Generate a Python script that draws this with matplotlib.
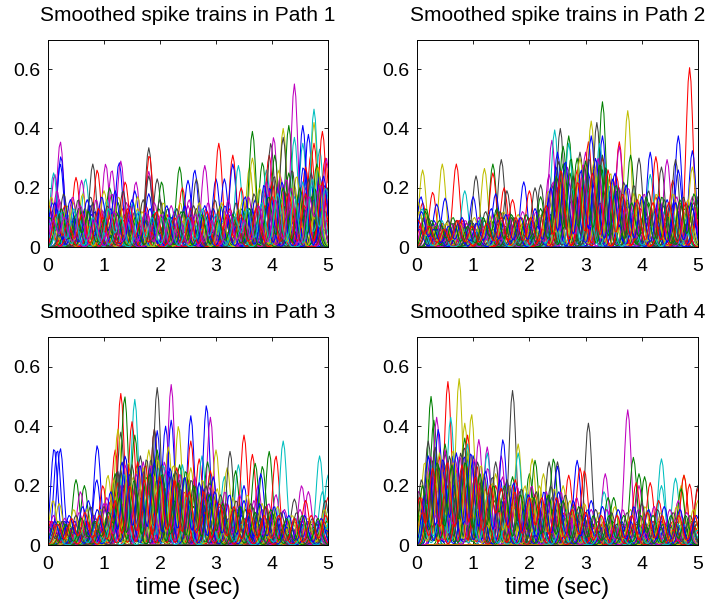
import numpy as np
import matplotlib
matplotlib.use("Agg")
import matplotlib.pyplot as plt

plt.rcParams['font.family'] = ['Liberation Sans', 'DejaVu Sans']

titles = ["Smoothed spike trains in Path 1", "Smoothed spike trains in Path 2",
          "Smoothed spike trains in Path 3", "Smoothed spike trains in Path 4"]
x_ticks = [0, 1, 2, 3, 4, 5]
y_ticks = [0, 0.2, 0.4, 0.6]
y_tick_labels = ["0", "0.2", "0.4", "0.6"]
x_label = "time (sec)"
colors = {'b': (0, 0, 1), 'g': (0, .5, 0), 'r': (1, 0, 0), 'c': (0, .75, .75),
          'm': (.75, 0, .75), 'y': (.75, .75, 0), 'k': (.25, .25, .25)}
color_order = ['b', 'g', 'r', 'c', 'm', 'y', 'k']

# tallest visible spikes: (time, height, colour)
path1_peaks = [(.22,.355,'m'),(.23,.305,'b'),(.22,.28,'b'),(.12,.245,'m'),(.1,.25,'c'),(.5,.235,'r'),(.67,.23,'c'),(.6,.225,'m'),
 (.8,.28,'k'),(.88,.26,'r'),(1.03,.28,'m'),(1.14,.26,'m'),(1.27,.285,'b'),(1.3,.29,'m'),(1.1,.2,'g'),(1.38,.22,'r'),(1.57,.22,'m'),(1.55,.19,'b'),
 (1.8,.255,'m'),(1.8,.335,'k'),(1.81,.31,'r'),(1.8,.24,'k'),(1.95,.23,'k'),(2.03,.22,'g'),(2.35,.27,'g'),(2.4,.2,'r'),(2.5,.225,'b'),(2.62,.26,'b'),
 (2.65,.23,'k'),(2.8,.275,'m'),(3.0,.23,'b'),(3.05,.35,'r'),(3.15,.23,'b'),(3.3,.31,'r'),(3.3,.28,'b'),(3.4,.275,'c'),(3.45,.2,'r'),(3.6,.27,'y'),
 (3.65,.3,'y'),(3.65,.39,'g'),(3.83,.285,'g'),(3.9,.26,'c'),(3.95,.31,'r'),(3.98,.35,'k'),(4.03,.37,'m'),(4.05,.31,'g'),(4.2,.4,'y'),(4.3,.41,'g'),
 (4.2,.37,'k'),(4.4,.55,'m'),(4.4,.37,'c'),(4.55,.35,'c'),(4.55,.41,'b'),(4.65,.38,'b'),(4.7,.32,'r'),(4.75,.35,'r'),(4.75,.42,'y'),(4.75,.465,'c'),
 (4.85,.33,'c'),(4.9,.39,'r'),(4.95,.3,'r'),(4.97,.3,'m'),(4.8,.28,'g')]
path2_peaks = [(.1,.26,'y'),(.1,.15,'r'),(.07,.17,'b'),(.28,.185,'r'),(.45,.28,'y'),(.35,.145,'b'),(.5,.165,'b'),(.7,.28,'r'),(.85,.19,'c'),
 (1.05,.24,'k'),(1.0,.17,'b'),(1.2,.265,'y'),(1.35,.28,'g'),(1.35,.25,'r'),(1.5,.295,'k'),(1.4,.18,'b'),(1.55,.2,'r'),(1.6,.19,'k'),(1.7,.16,'r'),
 (1.9,.22,'b'),(2.0,.19,'r'),(2.1,.2,'k'),(2.2,.21,'k'),(2.2,.17,'g'),(2.35,.245,'m'),(2.4,.36,'m'),(2.45,.395,'c'),(2.55,.4,'k'),(2.5,.32,'b'),
 (2.6,.34,'g'),(2.7,.375,'g'),(2.7,.35,'c'),(2.9,.32,'k'),(2.85,.3,'g'),(3.0,.32,'m'),(3.05,.355,'r'),(3.1,.425,'y'),(3.1,.375,'b'),(3.2,.42,'k'),
 (3.3,.49,'g'),(3.3,.375,'b'),(3.3,.3,'r'),(3.25,.35,'c'),(3.6,.355,'r'),(3.6,.34,'m'),(3.75,.46,'y'),(3.8,.31,'g'),(3.95,.3,'k'),(4.15,.32,'b'),
 (4.15,.245,'c'),(4.25,.305,'r'),(4.35,.27,'k'),(4.45,.295,'m'),(4.55,.225,'r'),(4.65,.375,'b'),(4.6,.295,'k'),(4.65,.26,'b'),(4.85,.605,'r'),
 (4.9,.325,'b'),(4.9,.27,'y'),(5.0,.17,'k'),(5.0,.16,'b')]
path3_peaks = [(.11,.325,'b'),(.165,.32,'b'),(.22,.325,'b'),(.88,.335,'b'),(.87,.22,'b'),(.09,.15,'y'),(.2,.14,'y'),(.1,.1,'m'),(.5,.22,'g'),(.65,.2,'g'),(.58,.18,'m'),
 (.72,.15,'b'),(1.07,.235,'y'),(.98,.2,'r'),(1.2,.32,'r'),(1.3,.38,'k'),(1.3,.51,'r'),(1.37,.5,'g'),(1.25,.39,'y'),(1.55,.49,'c'),(1.5,.415,'r'),
 (1.55,.37,'g'),(1.65,.3,'k'),(1.7,.28,'m'),(1.9,.39,'r'),(1.9,.39,'k'),(1.8,.32,'y'),(1.95,.53,'k'),(1.95,.385,'b'),(1.95,.32,'g'),(2.1,.4,'b'),
 (2.2,.54,'m'),(2.2,.42,'b'),(2.33,.4,'y'),(2.15,.33,'y'),(2.35,.27,'g'),(2.4,.27,'c'),(2.55,.435,'b'),(2.55,.35,'r'),(2.55,.26,'y'),(2.7,.29,'r'),
 (2.75,.3,'c'),(2.83,.47,'b'),(2.9,.43,'m'),(2.85,.28,'g'),(2.9,.25,'r'),(3.0,.32,'y'),(2.95,.23,'b'),(3.15,.23,'c'),(3.2,.26,'y'),(3.25,.315,'k'),
 (3.4,.27,'c'),(3.35,.25,'g'),(3.5,.37,'r'),(3.5,.2,'b'),(3.65,.305,'r'),(3.7,.275,'g'),(3.75,.2,'m'),(3.83,.265,'g'),(3.8,.24,'b'),(3.95,.315,'g'),
 (4.07,.3,'r'),(4.2,.35,'c'),(4.07,.17,'m'),(4.4,.155,'k'),(4.2,.115,'b'),(4.53,.2,'m'),(4.65,.18,'m'),(4.6,.15,'r'),(4.85,.3,'c'),(4.9,.18,'c'),
 (5.0,.235,'c'),(5.0,.16,'r'),(4.95,.15,'k')]
path4_peaks = [(.25,.5,'g'),(.3,.42,'g'),(.2,.35,'k'),(.35,.43,'m'),(.38,.39,'b'),(.55,.55,'r'),(.6,.43,'c'),(.5,.34,'g'),(.75,.56,'y'),(.85,.41,'y'),
 (.97,.44,'y'),(.85,.36,'g'),(.9,.37,'r'),(.9,.34,'c'),(1.1,.355,'m'),(1.0,.3,'b'),(1.25,.33,'m'),(1.25,.31,'c'),(1.4,.28,'k'),(1.5,.3,'m'),(1.53,.355,'b'),
 (1.7,.52,'k'),(1.8,.34,'y'),(1.8,.31,'c'),(1.7,.23,'g'),(1.75,.22,'r'),(2.0,.24,'g'),(2.05,.29,'y'),(2.1,.285,'g'),(2.35,.28,'k'),(2.25,.24,'y'),
 (2.43,.29,'g'),(2.5,.28,'k'),(2.5,.265,'b'),(2.7,.235,'r'),(2.6,.2,'y'),(2.85,.285,'b'),(2.9,.26,'r'),(3.05,.41,'k'),(2.98,.25,'r'),(3.1,.15,'b'),
 (3.35,.24,'m'),(3.33,.18,'c'),(3.4,.16,'g'),(3.5,.16,'g'),(3.75,.455,'m'),(3.85,.295,'g'),(3.95,.24,'g'),(3.95,.2,'m'),(3.9,.21,'r'),(4.05,.23,'g'),
 (4.15,.21,'r'),(4.35,.29,'c'),(4.35,.2,'c'),(4.3,.15,'r'),(4.6,.225,'c'),(4.7,.2,'y'),(4.75,.235,'y'),(4.75,.235,'r'),(4.85,.205,'r'),(4.7,.19,'g'),
 (4.65,.15,'m'),(5.0,.2,'k'),(5.0,.19,'r'),(5.0,.15,'y')]

# low-lying trains that form the dense band: (time, height), one line per inner list
path1_low = [
 [(.05,.12),(.4,.09),(.75,.14),(1.1,.07),(1.45,.12),(1.85,.08),(2.2,.1),(2.6,.06),(2.95,.13),(3.3,.09),(3.7,.16),(4.1,.2),(4.45,.12),(4.85,.24)],
 [(.15,.07),(.55,.13),(.9,.06),(1.25,.15),(1.65,.07),(2.05,.12),(2.45,.08),(2.8,.11),(3.2,.07),(3.55,.14),(3.95,.1),(4.3,.25),(4.7,.17)],
 [(.3,.14),(.65,.06),(1.0,.12),(1.35,.09),(1.75,.14),(2.15,.06),(2.55,.13),(2.9,.07),(3.25,.13),(3.6,.08),(4.0,.22),(4.35,.15),(4.6,.27),(4.95,.12)],
 [(.02,.08),(.35,.11),(.7,.08),(1.05,.16),(1.5,.08),(1.9,.12),(2.3,.07),(2.7,.12),(3.1,.09),(3.5,.12),(3.85,.18),(4.2,.1),(4.55,.22),(4.9,.16)],
 [(.2,.16),(.6,.08),(.95,.13),(1.3,.07),(1.7,.1),(2.1,.09),(2.5,.14),(2.85,.05),(3.15,.12),(3.45,.1),(3.8,.13),(4.15,.24),(4.5,.09),(4.8,.19)],
 [(.1,.06),(.45,.15),(.85,.09),(1.2,.11),(1.6,.13),(2.0,.07),(2.4,.11),(2.75,.09),(3.05,.1),(3.4,.13),(3.75,.07),(4.1,.15),(4.4,.21),(4.75,.1)],
 [(.25,.09),(.5,.05),(.8,.15),(1.15,.08),(1.55,.12),(1.95,.1),(2.35,.06),(2.65,.13),(3.0,.06),(3.35,.08),(3.7,.12),(4.05,.13),(4.25,.18),(4.65,.23),(5.0,.2)],
 [(.08,.15),(.42,.07),(.78,.11),(1.12,.13),(1.48,.06),(1.82,.13),(2.22,.09),(2.58,.1),(2.92,.11),(3.28,.06),(3.62,.1),(3.92,.15),(4.28,.11),(4.62,.13),(4.93,.21)],
 [(.18,.11),(.52,.1),(.88,.07),(1.22,.12),(1.58,.09),(1.98,.13),(2.38,.12),(2.72,.05),(3.08,.14),(3.42,.07),(3.78,.11),(4.12,.09),(4.48,.18),(4.82,.08)],
 [(.28,.06),(.62,.12),(.98,.1),(1.32,.13),(1.72,.06),(2.12,.11),(2.48,.07),(2.82,.13),(3.18,.1),(3.52,.06),(3.88,.14),(4.22,.19),(4.58,.14),(4.88,.13)],
 [(.12,.1),(.48,.12),(.82,.05),(1.18,.1),(1.52,.15),(1.88,.06),(2.28,.13),(2.62,.08),(2.98,.08),(3.32,.12),(3.68,.09),(4.02,.17),(4.38,.07),(4.72,.21)],
 [(.38,.05),(.72,.09),(1.08,.06),(1.42,.1),(1.78,.11),(2.18,.08),(2.52,.05),(2.88,.09),(3.22,.05),(3.58,.11),(3.98,.07),(4.32,.13),(4.68,.06),(4.98,.09)],
 [(.05,.05),(.32,.08),(.68,.1),(1.02,.09),(1.38,.05),(1.68,.12),(2.08,.05),(2.42,.09),(2.78,.07),(3.12,.08),(3.48,.05),(3.82,.06),(4.18,.12),(4.52,.07),(4.78,.14)],
 [(.22,.04),(.58,.06),(.92,.04),(1.28,.06),(1.62,.04),(2.02,.06),(2.32,.04),(2.68,.06),(3.02,.04),(3.38,.06),(3.72,.05),(4.08,.06),(4.42,.05),(4.92,.06)],
 [(.15,.13),(.47,.1),(.84,.12),(1.16,.05),(1.44,.09),(1.92,.09),(2.26,.12),(2.56,.11),(2.94,.05),(3.26,.11),(3.64,.13),(3.96,.2),(4.34,.09),(4.74,.16)],
 [(.33,.09),(.66,.13),(1.04,.11),(1.36,.11),(1.76,.09),(2.14,.13),(2.44,.05),(2.76,.1),(3.14,.06),(3.46,.13),(3.86,.08),(4.24,.14),(4.54,.11),(4.86,.2)],
 [(.02,.14),(.37,.06),(.74,.07),(1.09,.1),(1.46,.14),(1.84,.05),(2.24,.07),(2.64,.09),(3.04,.12),(3.36,.1),(3.74,.15),(4.14,.11),(4.46,.15),(4.96,.15)],
 [(.26,.12),(.56,.09),(.94,.08),(1.24,.08),(1.64,.11),(2.04,.1),(2.34,.1),(2.74,.06),(3.06,.07),(3.44,.09),(3.84,.1),(4.16,.16),(4.64,.09),(4.84,.1)],
 [(.16,.19),(.44,.17),(.86,.16),(1.14,.18),(1.4,.15),(1.9,.15),(2.2,.14),(2.52,.16),(2.86,.15),(3.22,.16),(3.58,.17),(3.9,.22),(4.26,.23),(4.6,.2),(4.98,.19)],
 [(.06,.17),(.34,.14),(.62,.18),(1.0,.19),(1.26,.17),(1.6,.17),(2.06,.15),(2.36,.15),(2.7,.15),(3.1,.15),(3.48,.16),(3.78,.2),(4.12,.26),(4.44,.24),(4.82,.27)],
 [(.28,.18),(.54,.16),(.76,.17),(1.06,.14),(1.34,.19),(1.7,.16),(2.0,.16),(2.3,.13),(2.6,.14),(2.98,.16),(3.36,.15),(3.68,.18),(4.04,.24),(4.36,.26),(4.7,.25)],
 [(.12,.15),(.4,.16),(.7,.16),(.96,.17),(1.2,.19),(1.5,.16),(1.8,.18),(2.12,.14),(2.44,.14),(2.8,.14),(3.16,.14),(3.52,.17),(3.86,.21),(4.18,.22),(4.56,.27),(4.92,.24)],
 [(.03,.1),(.24,.13),(.5,.11),(.72,.12),(1.0,.09),(1.24,.11),(1.56,.1),(1.88,.11),(2.1,.1),(2.42,.12),(2.74,.11),(3.04,.09),(3.3,.11),(3.6,.13),(3.94,.17),(4.2,.2),(4.5,.2),(4.76,.2)],
 [(.14,.11),(.36,.08),(.6,.11),(.9,.13),(1.12,.11),(1.42,.13),(1.66,.09),(1.94,.12),(2.26,.1),(2.54,.1),(2.84,.12),(3.2,.11),(3.44,.11),(3.72,.13),(4.0,.17),(4.3,.18),(4.6,.18),(4.9,.22)],
 [(.2,.12),(.46,.13),(.8,.1),(1.08,.13),(1.3,.1),(1.62,.12),(1.86,.1),(2.16,.1),(2.5,.1),(2.76,.13),(3.0,.11),(3.34,.1),(3.56,.13),(3.82,.15),(4.1,.18),(4.4,.17),(4.72,.23),(4.96,.2)],
 [(.09,.09),(.3,.1),(.58,.14),(.84,.09),(1.18,.12),(1.46,.11),(1.74,.12),(2.02,.11),(2.34,.11),(2.64,.11),(2.92,.09),(3.24,.12),(3.5,.09),(3.76,.14),(4.06,.16),(4.34,.2),(4.66,.17),(4.86,.21)],
]
path2_low = [
 [(.05,.07),(.3,.09),(.65,.05),(.95,.08),(1.3,.06),(1.65,.09),(2.0,.07),(2.35,.16),(2.7,.22),(3.05,.25),(3.4,.2),(3.75,.14),(4.1,.1),(4.45,.16),(4.8,.08)],
 [(.15,.12),(.5,.06),(.85,.07),(1.2,.09),(1.55,.1),(1.9,.06),(2.25,.12),(2.6,.28),(2.95,.18),(3.3,.26),(3.65,.17),(4.0,.16),(4.35,.09),(4.7,.14),(4.98,.1)],
 [(.08,.08),(.42,.08),(.75,.09),(1.1,.05),(1.45,.08),(1.8,.09),(2.15,.08),(2.5,.2),(2.85,.26),(3.2,.16),(3.55,.24),(3.9,.11),(4.25,.17),(4.6,.07),(4.92,.15)],
 [(.25,.06),(.58,.07),(.9,.05),(1.25,.07),(1.6,.06),(1.95,.08),(2.3,.09),(2.65,.17),(3.0,.23),(3.35,.28),(3.7,.12),(4.05,.13),(4.4,.12),(4.75,.1)],
 [(.12,.09),(.45,.05),(.8,.08),(1.15,.08),(1.5,.09),(1.85,.05),(2.2,.1),(2.55,.24),(2.9,.14),(3.25,.22),(3.6,.2),(3.95,.09),(4.3,.15),(4.65,.12),(4.95,.07)],
 [(.02,.15),(.35,.07),(.7,.06),(1.05,.06),(1.4,.11),(1.75,.08),(2.1,.06),(2.45,.14),(2.8,.21),(3.15,.29),(3.5,.15),(3.85,.18),(4.2,.08),(4.55,.13),(4.88,.09)],
 [(.2,.08),(.55,.09),(.88,.08),(1.22,.06),(1.58,.07),(1.92,.07),(2.28,.07),(2.62,.19),(2.98,.27),(3.32,.19),(3.68,.22),(4.02,.1),(4.38,.14),(4.72,.06)],
 [(.1,.05),(.4,.06),(.72,.07),(1.08,.09),(1.42,.05),(1.78,.06),(2.12,.09),(2.48,.27),(2.82,.12),(3.18,.2),(3.52,.25),(3.88,.15),(4.22,.12),(4.58,.16),(4.9,.13)],
 [(.28,.08),(.62,.08),(.98,.06),(1.32,.09),(1.68,.1),(2.02,.05),(2.38,.11),(2.72,.25),(3.08,.13),(3.42,.23),(3.78,.09),(4.12,.15),(4.48,.1),(4.82,.14)],
 [(.18,.06),(.52,.05),(.82,.09),(1.18,.07),(1.52,.06),(1.88,.08),(2.22,.05),(2.58,.15),(2.92,.2),(3.28,.12),(3.62,.1),(3.98,.13),(4.32,.07),(4.68,.15),(5.0,.12)],
 [(.06,.1),(.38,.04),(.68,.04),(1.02,.04),(1.38,.05),(1.72,.04),(2.08,.04),(2.42,.08),(2.78,.09),(3.12,.1),(3.48,.08),(3.82,.07),(4.18,.05),(4.52,.05),(4.86,.06)],
 [(.22,.04),(.6,.03),(.92,.07),(1.28,.04),(1.62,.08),(1.98,.06),(2.32,.13),(2.68,.11),(3.02,.08),(3.38,.14),(3.72,.13),(4.08,.08),(4.42,.08),(4.78,.12)],
 [(.14,.11),(.48,.07),(.78,.06),(1.12,.07),(1.48,.07),(1.82,.07),(2.18,.11),(2.52,.18),(2.88,.23),(3.22,.24),(3.58,.13),(3.92,.14),(4.28,.1),(4.62,.08),(4.96,.14)],
 [(.32,.07),(.66,.08),(1.0,.08),(1.35,.06),(1.7,.05),(2.05,.09),(2.4,.21),(2.75,.16),(3.1,.21),(3.45,.17),(3.8,.11),(4.15,.11),(4.5,.14),(4.85,.11)],
 [(.04,.06),(.36,.06),(.74,.08),(1.06,.05),(1.44,.09),(1.76,.09),(2.14,.07),(2.46,.23),(2.84,.17),(3.16,.22),(3.54,.19),(3.86,.1),(4.24,.13),(4.56,.1),(4.94,.08)],
 [(.26,.09),(.56,.06),(.94,.09),(1.26,.08),(1.64,.08),(1.96,.05),(2.34,.1),(2.66,.13),(3.04,.15),(3.36,.27),(3.74,.16),(4.06,.12),(4.44,.11),(4.76,.13)],
 [(.16,.07),(.46,.08),(.84,.05),(1.16,.06),(1.54,.05),(1.86,.1),(2.24,.06),(2.56,.22),(2.94,.24),(3.26,.15),(3.64,.14),(3.96,.07),(4.34,.13),(4.66,.09),(4.99,.11)],
 [(.09,.13),(.44,.09),(.86,.06),(1.14,.1),(1.46,.06),(1.84,.04),(2.16,.05),(2.44,.12),(2.76,.2),(3.06,.19),(3.44,.21),(3.84,.12),(4.16,.07),(4.54,.12),(4.84,.07)],
 [(.12,.1),(.34,.08),(.6,.08),(.86,.09),(1.1,.1),(1.36,.11),(1.62,.11),(1.88,.12),(2.12,.12),(2.42,.22),(2.68,.27),(2.96,.28),(3.22,.3),(3.5,.22),(3.76,.2),(4.04,.18),(4.32,.16),(4.62,.17),(4.9,.17)],
 [(.04,.12),(.26,.07),(.52,.08),(.76,.08),(1.02,.1),(1.28,.11),(1.54,.12),(1.8,.11),(2.06,.11),(2.34,.19),(2.6,.25),(2.9,.3),(3.14,.27),(3.44,.25),(3.7,.19),(3.96,.18),(4.26,.18),(4.56,.18),(4.82,.16)],
 [(.2,.1),(.44,.07),(.7,.09),(.96,.09),(1.22,.12),(1.48,.12),(1.72,.1),(1.98,.1),(2.26,.13),(2.52,.29),(2.78,.24),(3.06,.3),(3.3,.31),(3.58,.2),(3.86,.21),(4.12,.19),(4.4,.16),(4.74,.17),(4.97,.16)],
 [(.08,.12),(.3,.06),(.56,.07),(.8,.1),(1.06,.08),(1.32,.13),(1.58,.11),(1.84,.1),(2.1,.13),(2.38,.2),(2.64,.29),(2.92,.26),(3.18,.3),(3.48,.23),(3.72,.21),(4.0,.17),(4.3,.17),(4.6,.15),(4.88,.15)],
 [(.16,.13),(.4,.09),(.64,.1),(.9,.07),(1.18,.1),(1.42,.13),(1.68,.11),(1.94,.11),(2.2,.13),(2.48,.24),(2.74,.3),(3.0,.29),(3.26,.28),(3.54,.21),(3.82,.15),(4.08,.17),(4.36,.17),(4.68,.16),(4.93,.18)],
 [(.02,.09),(.22,.07),(.48,.06),(.72,.09),(.98,.07),(1.24,.08),(1.5,.1),(1.76,.1),(2.02,.1),(2.3,.14),(2.56,.26),(2.86,.22),(3.12,.25),(3.4,.26),(3.66,.18),(3.92,.16),(4.2,.15),(4.48,.15),(4.78,.15)],
]
path3_low = [
 [(.05,.07),(.35,.08),(.7,.07),(1.02,.12),(1.35,.2),(1.7,.25),(2.05,.22),(2.4,.16),(2.75,.2),(3.1,.13),(3.45,.1),(3.8,.09),(4.15,.07),(4.5,.08),(4.85,.06)],
 [(.18,.08),(.5,.07),(.85,.09),(1.2,.24),(1.55,.18),(1.9,.27),(2.25,.24),(2.6,.13),(2.95,.17),(3.3,.09),(3.65,.13),(4.0,.11),(4.35,.06),(4.7,.07),(4.98,.08)],
 [(.1,.06),(.42,.08),(.78,.06),(1.12,.15),(1.45,.26),(1.8,.2),(2.15,.18),(2.5,.22),(2.85,.12),(3.2,.14),(3.55,.07),(3.9,.13),(4.25,.08),(4.6,.06),(4.92,.08)],
 [(.28,.07),(.6,.06),(.95,.1),(1.28,.23),(1.62,.22),(1.98,.26),(2.32,.2),(2.68,.18),(3.02,.1),(3.38,.12),(3.72,.1),(4.08,.05),(4.42,.09),(4.78,.07)],
 [(.02,.08),(.32,.05),(.66,.08),(1.05,.16),(1.38,.27),(1.72,.19),(2.08,.28),(2.42,.14),(2.78,.16),(3.12,.15),(3.48,.08),(3.82,.12),(4.18,.06),(4.52,.06),(4.88,.05)],
 [(.22,.05),(.55,.08),(.9,.07),(1.22,.19),(1.58,.25),(1.92,.21),(2.28,.17),(2.62,.19),(2.98,.11),(3.32,.11),(3.68,.09),(4.02,.08),(4.38,.07),(4.72,.08)],
 [(.14,.07),(.46,.06),(.82,.08),(1.15,.13),(1.48,.21),(1.84,.29),(2.18,.23),(2.54,.15),(2.88,.21),(3.24,.08),(3.58,.11),(3.94,.06),(4.28,.05),(4.64,.08),(4.96,.06)],
 [(.3,.08),(.64,.07),(.98,.05),(1.32,.28),(1.66,.16),(2.02,.24),(2.36,.19),(2.72,.12),(3.06,.13),(3.42,.13),(3.76,.07),(4.12,.09),(4.46,.05),(4.82,.08)],
 [(.08,.05),(.38,.07),(.74,.05),(1.08,.09),(1.42,.17),(1.76,.23),(2.12,.16),(2.46,.25),(2.82,.14),(3.16,.1),(3.52,.12),(3.86,.1),(4.22,.07),(4.56,.07),(4.9,.07)],
 [(.24,.06),(.58,.05),(.92,.06),(1.25,.21),(1.6,.28),(1.95,.18),(2.3,.26),(2.65,.1),(3.0,.15),(3.35,.07),(3.7,.08),(4.05,.06),(4.4,.08),(4.75,.05)],
 [(.12,.08),(.44,.04),(.76,.04),(1.1,.08),(1.5,.12),(1.86,.13),(2.2,.12),(2.56,.11),(2.92,.08),(3.26,.06),(3.6,.05),(3.96,.05),(4.3,.04),(4.66,.04),(5.0,.07)],
 [(.34,.06),(.68,.08),(1.0,.14),(1.34,.14),(1.68,.12),(2.04,.15),(2.38,.1),(2.74,.08),(3.08,.07),(3.44,.05),(3.78,.06),(4.14,.04),(4.48,.07),(4.84,.06)],
 [(.04,.06),(.4,.06),(.72,.06),(1.18,.17),(1.52,.23),(1.88,.24),(2.22,.21),(2.58,.17),(2.94,.13),(3.28,.12),(3.62,.09),(3.98,.08),(4.32,.08),(4.68,.05),(4.94,.07)],
 [(.2,.07),(.52,.07),(.88,.05),(1.3,.25),(1.64,.19),(2.0,.2),(2.34,.22),(2.7,.15),(3.04,.11),(3.4,.1),(3.74,.11),(4.1,.07),(4.44,.06),(4.8,.07)],
 [(.16,.04),(.48,.08),(.8,.07),(1.14,.11),(1.46,.24),(1.82,.26),(2.16,.25),(2.52,.13),(2.86,.18),(3.22,.09),(3.56,.1),(3.92,.09),(4.26,.06),(4.62,.05),(4.97,.05)],
 [(.26,.08),(.62,.05),(.96,.08),(1.26,.18),(1.56,.2),(1.94,.22),(2.26,.15),(2.64,.2),(2.96,.09),(3.34,.12),(3.66,.06),(4.04,.1),(4.36,.05),(4.74,.06)],
 [(.06,.08),(.36,.06),(.7,.08),(1.06,.1),(1.4,.22),(1.74,.27),(2.1,.19),(2.44,.18),(2.8,.11),(3.14,.12),(3.5,.09),(3.84,.08),(4.2,.05),(4.54,.08),(4.86,.07)],
 [(.15,.06),(.56,.06),(.86,.07),(1.16,.12),(1.36,.24),(1.78,.17),(2.06,.27),(2.48,.16),(2.9,.15),(3.18,.08),(3.46,.07),(3.88,.07),(4.16,.06),(4.58,.07),(4.99,.06)],
 [(.08,.08),(.3,.09),(.56,.11),(.82,.1),(1.04,.14),(1.3,.2),(1.58,.24),(1.84,.27),(2.1,.25),(2.36,.24),(2.62,.23),(2.9,.2),(3.16,.18),(3.42,.17),(3.68,.15),(3.94,.14),(4.22,.12),(4.5,.12),(4.78,.1)],
 [(.2,.08),(.46,.12),(.7,.12),(.94,.12),(1.18,.22),(1.44,.28),(1.7,.26),(1.96,.29),(2.24,.27),(2.5,.24),(2.76,.22),(3.02,.19),(3.3,.16),(3.56,.17),(3.82,.14),(4.1,.13),(4.36,.1),(4.64,.09),(4.94,.12)],
 [(.02,.06),(.26,.08),(.5,.1),(.76,.13),(1.0,.13),(1.24,.25),(1.5,.27),(1.76,.29),(2.02,.27),(2.28,.25),(2.56,.22),(2.82,.2),(3.08,.17),(3.36,.15),(3.62,.14),(3.88,.13),(4.16,.11),(4.44,.11),(4.72,.09)],
 [(.12,.08),(.38,.1),(.62,.13),(.88,.12),(1.12,.18),(1.38,.3),(1.64,.27),(1.9,.28),(2.18,.26),(2.44,.23),(2.7,.21),(2.98,.18),(3.24,.17),(3.5,.15),(3.78,.14),(4.04,.13),(4.3,.1),(4.58,.1),(4.88,.09)],
 [(.32,.07),(.6,.09),(.84,.08),(1.08,.11),(1.28,.16),(1.54,.22),(1.82,.24),(2.04,.24),(2.32,.21),(2.6,.2),(2.88,.17),(3.12,.14),(3.44,.13),(3.7,.11),(3.98,.12),(4.26,.09),(4.54,.1),(4.82,.09)],
 [(.17,.07),(.42,.09),(.66,.11),(.92,.1),(1.2,.15),(1.46,.2),(1.72,.22),(2.0,.23),(2.26,.22),(2.52,.18),(2.78,.18),(3.06,.14),(3.32,.13),(3.6,.12),(3.86,.1),(4.12,.1),(4.4,.09),(4.7,.1),(4.96,.1)],
]
path4_low = [
 [(.05,.12),(.3,.24),(.65,.2),(1.0,.26),(1.35,.14),(1.7,.17),(2.05,.11),(2.4,.16),(2.75,.08),(3.1,.08),(3.45,.07),(3.8,.08),(4.15,.06),(4.5,.07),(4.85,.08)],
 [(.15,.2),(.48,.28),(.82,.18),(1.15,.2),(1.5,.19),(1.85,.1),(2.2,.15),(2.55,.13),(2.9,.1),(3.25,.06),(3.6,.08),(3.95,.07),(4.3,.08),(4.65,.06),(4.98,.07)],
 [(.08,.16),(.4,.3),(.72,.26),(1.05,.17),(1.4,.2),(1.75,.13),(2.1,.17),(2.45,.09),(2.8,.14),(3.15,.07),(3.5,.05),(3.85,.06),(4.2,.08),(4.55,.08),(4.9,.06)],
 [(.25,.27),(.58,.22),(.92,.29),(1.25,.16),(1.6,.12),(1.95,.18),(2.3,.1),(2.65,.12),(3.0,.06),(3.35,.08),(3.7,.07),(4.05,.08),(4.4,.05),(4.75,.07)],
 [(.02,.15),(.35,.19),(.68,.29),(1.02,.22),(1.32,.18),(1.65,.2),(2.0,.12),(2.35,.14),(2.7,.11),(3.05,.09),(3.4,.06),(3.75,.08),(4.1,.07),(4.45,.08),(4.8,.05)],
 [(.18,.25),(.52,.26),(.85,.23),(1.18,.24),(1.52,.11),(1.88,.15),(2.22,.13),(2.58,.08),(2.92,.12),(3.28,.07),(3.62,.06),(3.98,.05),(4.32,.07),(4.68,.08),(5.0,.06)],
 [(.12,.13),(.44,.22),(.78,.31),(1.1,.15),(1.45,.17),(1.8,.11),(2.15,.09),(2.5,.15),(2.85,.09),(3.2,.05),(3.55,.07),(3.9,.07),(4.25,.06),(4.6,.07),(4.95,.08)],
 [(.28,.23),(.62,.3),(.95,.2),(1.28,.13),(1.62,.18),(1.98,.14),(2.32,.16),(2.68,.07),(3.02,.1),(3.38,.05),(3.72,.06),(4.08,.06),(4.42,.07),(4.78,.06)],
 [(.06,.1),(.38,.27),(.7,.17),(1.04,.25),(1.38,.15),(1.72,.16),(2.08,.1),(2.42,.12),(2.78,.13),(3.12,.07),(3.48,.08),(3.82,.05),(4.18,.05),(4.52,.06),(4.88,.08)],
 [(.22,.18),(.55,.2),(.88,.27),(1.22,.19),(1.56,.16),(1.92,.09),(2.26,.14),(2.62,.11),(2.96,.07),(3.32,.08),(3.66,.07),(4.02,.07),(4.36,.08),(4.72,.05)],
 [(.1,.08),(.42,.14),(.75,.13),(1.08,.12),(1.42,.09),(1.78,.08),(2.12,.07),(2.48,.06),(2.82,.06),(3.18,.04),(3.52,.04),(3.88,.04),(4.22,.04),(4.58,.05),(4.92,.05)],
 [(.32,.1),(.6,.12),(.98,.14),(1.3,.1),(1.66,.06),(2.02,.09),(2.38,.05),(2.72,.08),(3.08,.04),(3.42,.05),(3.78,.05),(4.12,.05),(4.48,.04),(4.82,.07)],
 [(.04,.07),(.34,.21),(.66,.28),(.98,.3),(1.34,.21),(1.68,.13),(2.04,.16),(2.36,.11),(2.74,.1),(3.06,.06),(3.44,.07),(3.76,.06),(4.14,.08),(4.46,.06),(4.84,.07)],
 [(.2,.22),(.5,.31),(.8,.25),(1.12,.21),(1.48,.13),(1.82,.18),(2.18,.12),(2.52,.14),(2.88,.08),(3.22,.08),(3.58,.06),(3.92,.08),(4.28,.05),(4.62,.08),(4.97,.07)],
 [(.14,.17),(.46,.25),(.84,.3),(1.16,.18),(1.54,.15),(1.9,.12),(2.24,.08),(2.6,.1),(2.94,.05),(3.3,.06),(3.64,.08),(4.0,.06),(4.34,.06),(4.7,.07)],
 [(.26,.29),(.56,.16),(.9,.21),(1.2,.23),(1.58,.14),(1.94,.11),(2.28,.11),(2.64,.09),(2.98,.09),(3.36,.07),(3.68,.05),(4.06,.07),(4.38,.07),(4.76,.06)],
 [(.09,.11),(.36,.26),(.74,.22),(1.06,.27),(1.44,.12),(1.76,.15),(2.14,.13),(2.46,.1),(2.84,.07),(3.16,.06),(3.54,.06),(3.86,.07),(4.24,.06),(4.56,.05),(4.94,.06)],
 [(.16,.14),(.43,.18),(.7,.24),(.94,.24),(1.26,.17),(1.6,.1),(1.96,.13),(2.2,.09),(2.56,.07),(2.86,.11),(3.26,.04),(3.6,.07),(3.94,.06),(4.26,.07),(4.64,.07),(4.99,.05)],
 [(.03,.18),(.24,.3),(.5,.32),(.76,.3),(1.02,.29),(1.26,.26),(1.52,.23),(1.78,.2),(2.04,.2),(2.3,.18),(2.56,.18),(2.84,.16),(3.1,.12),(3.38,.12),(3.66,.12),(3.94,.12),(4.22,.13),(4.5,.12),(4.8,.11)],
 [(.14,.28),(.4,.31),(.64,.32),(.9,.3),(1.14,.27),(1.4,.24),(1.66,.2),(1.92,.2),(2.18,.2),(2.44,.19),(2.72,.15),(2.98,.14),(3.24,.11),(3.52,.13),(3.8,.12),(4.06,.13),(4.34,.11),(4.62,.13),(4.92,.12)],
 [(.08,.22),(.32,.33),(.58,.3),(.84,.33),(1.08,.28),(1.34,.23),(1.6,.22),(1.86,.19),(2.12,.18),(2.38,.2),(2.64,.17),(2.92,.13),(3.18,.12),(3.46,.11),(3.74,.11),(4.0,.14),(4.28,.12),(4.56,.11),(4.86,.1)],
 [(.2,.3),(.46,.29),(.7,.31),(.96,.31),(1.22,.25),(1.48,.22),(1.72,.21),(1.98,.17),(2.26,.18),(2.52,.18),(2.78,.15),(3.04,.12),(3.3,.13),(3.58,.12),(3.86,.13),(4.12,.12),(4.4,.13),(4.68,.12),(4.97,.1)],
 [(.1,.2),(.36,.28),(.62,.27),(.86,.28),(1.12,.24),(1.36,.2),(1.56,.2),(1.84,.17),(2.08,.16),(2.34,.17),(2.6,.15),(2.88,.13),(3.14,.1),(3.42,.1),(3.68,.1),(3.98,.1),(4.2,.1),(4.52,.1),(4.78,.1)],
 [(.05,.16),(.28,.26),(.54,.28),(.8,.27),(1.04,.23),(1.3,.2),(1.5,.19),(1.74,.18),(2.0,.16),(2.22,.16),(2.48,.16),(2.76,.12),(3.0,.11),(3.28,.1),(3.56,.1),(3.82,.1),(4.1,.11),(4.36,.1),(4.66,.1),(4.94,.1)],
]

panels = [(path1_peaks, path1_low), (path2_peaks, path2_low),
          (path3_peaks, path3_low), (path4_peaks, path4_low)]
boxes_px = [(48, 39.5, 328, 247), (417, 39.5, 698, 247),
            (48, 337, 328, 545), (417, 337, 698, 545)]

W, H = 707, 600
SPIKE_WIDTH = 0.062
time = np.linspace(0, 5, 201)


def smooth(spike_list):
    """Smooth a spike train: each (time, height) spike becomes a bump of that height."""
    y = np.zeros_like(time)
    for t, h in spike_list:
        y = y + h * np.exp(-0.5 * ((time - t) / SPIKE_WIDTH) ** 2)
    return y


fig = plt.figure(figsize=(W / 100, H / 100), dpi=100)
for i, ((peaks, low), box) in enumerate(zip(panels, boxes_px)):
    x0, y0, x1, y1 = box
    ax = fig.add_axes([x0 / W, 1 - y1 / H, (x1 - x0) / W, (y1 - y0) / H])
    for t, h, c in peaks:
        ax.plot(time, smooth([(t, h)]), color=colors[c], lw=0.75)
    for j, train in enumerate(low):
        ax.plot(time, smooth(train), color=colors[color_order[j % 7]], lw=0.75)
    ax.set_xlim(0, 5)
    ax.set_ylim(0, 0.7)
    ax.set_xticks(x_ticks)
    ax.set_yticks(y_ticks)
    ax.set_yticklabels(y_tick_labels)
    ax.tick_params(direction='in', top=True, right=True, length=3, width=0.6,
                   labelsize=14)
    ax.tick_params(axis='x', pad=8)
    ax.tick_params(axis='y', pad=5.5)
    for s in ax.spines.values():
        s.set_linewidth(0.7)
    ax.set_title(titles[i], fontsize=15, pad=13.5)
    if i >= 2:
        ax.set_xlabel(x_label, fontsize=17, labelpad=3)

fig.savefig("out.png", dpi=100)
